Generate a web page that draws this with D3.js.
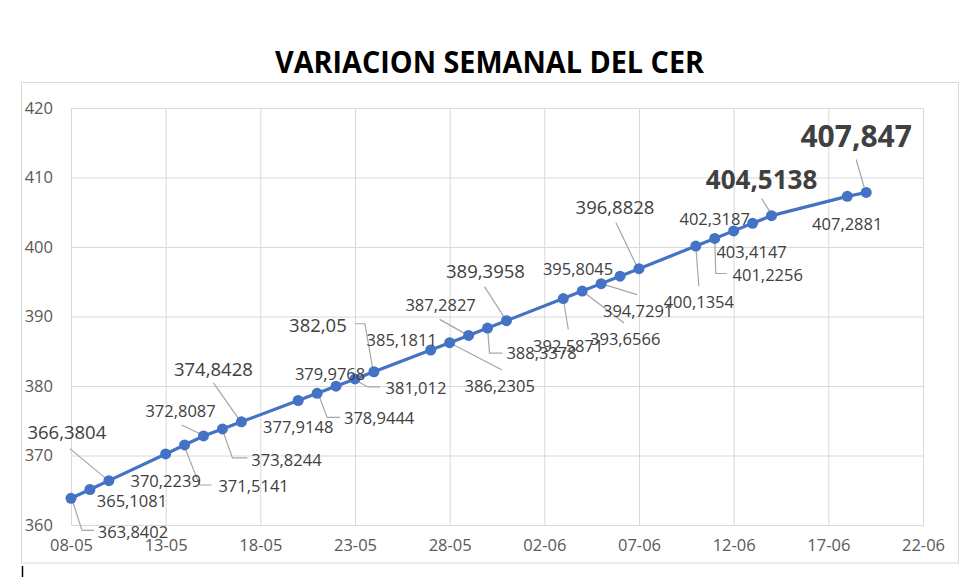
<!DOCTYPE html>
<html>
<head>
<meta charset="utf-8">
<script src="https://cdn.jsdelivr.net/npm/d3@7"></script>
<style>
  html, body { margin: 0; padding: 0; background: #fff; }
  svg { display: block; }
</style>
</head>
<body>
<svg id="chart" width="980" height="577"></svg>
<script>
// ---- data ----
const dates = ["08-05","09-05","10-05","13-05","14-05","15-05","16-05","17-05",
  "20-05","21-05","22-05","23-05","24-05","27-05","28-05","29-05","30-05","31-05",
  "03-06","04-06","05-06","06-06","07-06","10-06","11-06","12-06","13-06","14-06",
  "18-06","19-06"];
const values = [363.8402,365.1081,366.3804,370.2239,371.5141,372.8087,373.8244,374.8428,
  377.9148,378.9444,379.9768,381.012,382.05,385.1811,386.2305,387.2827,388.3378,389.3958,
  392.5871,393.6566,394.7291,395.8045,396.8828,400.1354,401.2256,402.3187,403.4147,404.5138,
  407.2881,407.847];
const labels = ["363,8402","365,1081","366,3804","370,2239","371,5141","372,8087","373,8244","374,8428",
  "377,9148","378,9444","379,9768","381,012","382,05","385,1811","386,2305","387,2827","388,3378","389,3958",
  "392,5871","393,6566","394,7291","395,8045","396,8828","400,1354","401,2256","402,3187","403,4147","404,5138",
  "407,2881","407,847"];
const xTickLabels = ["08-05","13-05","18-05","23-05","28-05","02-06","07-06","12-06","17-06","22-06"];
const yTickValues = [360,370,380,390,400,410,420];
const title = "VARIACION SEMANAL DEL CER";

// ---- label layout (offsets from the point; style kind; leader path) ----
const labelLayout = [
  {dx:62, dy:34, k:"n", leader:[[2,4],[11,32],[23,32]]},
  {dx:42, dy:12, k:"n"},
  {dx:-42, dy:-48, k:"l", leader:[[-39,-32],[-4,-3]]},
  {dx:0, dy:27, k:"n"},
  {dx:69, dy:41, k:"n", leader:[[0,2],[15,40],[27,40]]},
  {dx:-23, dy:-25, k:"n", leader:[[-22,-11],[-1,-1]]},
  {dx:64, dy:31, k:"n", leader:[[0,1],[10,29],[25,29]]},
  {dx:-28, dy:-53, k:"l", leader:[[-28,-39],[-2,-2]]},
  {dx:0, dy:27, k:"n"},
  {dx:62, dy:25, k:"n", leader:[[1,0],[10,24],[23,24]]},
  {dx:-6, dy:-12, k:"n"},
  {dx:61, dy:9, k:"n", leader:[[0,1],[13,8],[25,8]]},
  {dx:-56, dy:-46, k:"l", leader:[[-19,-48],[-9,-48],[-1,-2]]},
  {dx:-29, dy:-10, k:"n"},
  {dx:50, dy:43, k:"n", leader:[[0,0],[52,27]]},
  {dx:-28, dy:-30, k:"n", leader:[[-29,-16],[-4,-2]]},
  {dx:54, dy:25, k:"n", leader:[[0,0],[2,25],[15,25]]},
  {dx:-21, dy:-49, k:"l", leader:[[-22,-34],[-2,-3]]},
  {dx:5, dy:48, k:"n", leader:[[0,0],[5,31]]},
  {dx:43, dy:48, k:"n", leader:[[0,0],[42,32]]},
  {dx:37, dy:27, k:"n", leader:[[0,0],[36,11]]},
  {dx:-42, dy:-7, k:"n"},
  {dx:-24, dy:-61, k:"l", leader:[[-23,-46],[-2,-2]]},
  {dx:3, dy:56, k:"n", leader:[[0,0],[3,40]]},
  {dx:53, dy:37, k:"n", leader:[[0,0],[1,35],[12,35]]},
  {dx:-19, dy:-12, k:"n"},
  {dx:-1, dy:29, k:"n"},
  {dx:-10, dy:-36, k:"b1", leader:[[-10,-17],[-1,-3]]},
  {dx:0, dy:28, k:"n"},
  {dx:-10, dy:-56, k:"b2", leader:[[-10,-33],[-2,-5]]}
];
const labelStyle = {
  n:  {size:16.5, weight:400},
  l:  {size:18.5, weight:400},
  b1: {size:26, weight:700},
  b2: {size:30, weight:700}
};

// ---- drawing ----
const parse = d3.timeParse("%d-%m-%Y");
const toDate = s => parse(s + "-2024");
const data = dates.map((d, i) => ({date: toDate(d), value: values[i], label: labels[i], lay: labelLayout[i]}));

const svg = d3.select("#chart");
const font = "'Open Sans', 'Noto Sans', sans-serif";
const plot = {left: 71, right: 923, top: 108, bottom: 525};

const x = d3.scaleTime()
  .domain([toDate(xTickLabels[0]), toDate(xTickLabels[xTickLabels.length - 1])])
  .range([plot.left, plot.right]);
const y = d3.scaleLinear()
  .domain([yTickValues[0], yTickValues[yTickValues.length - 1]])
  .range([plot.bottom, plot.top]);

// outer chart border
svg.append("rect")
  .attr("x", 21.5).attr("y", 82.5).attr("width", 937).attr("height", 480.5)
  .attr("fill", "none").attr("stroke", "#d9d9d9").attr("stroke-width", 1);

// title
svg.append("text")
  .attr("x", 489.5).attr("y", 73)
  .attr("text-anchor", "middle")
  .attr("font-family", font).attr("font-weight", 700).attr("font-size", 31)
  .attr("fill", "#000")
  .attr("textLength", 429).attr("lengthAdjust", "spacingAndGlyphs")
  .text(title);

// gridlines via axes
const xTickDates = xTickLabels.map(toDate);
const gx = svg.append("g").attr("transform", `translate(0,${plot.bottom})`)
  .call(d3.axisBottom(x).tickValues(xTickDates).tickSize(-(plot.bottom - plot.top))
    .tickFormat(d3.timeFormat("%d-%m")).tickPadding(14));
gx.select(".domain").attr("stroke", "#d9d9d9");
gx.selectAll(".tick line").attr("stroke", "#d9d9d9");
gx.selectAll(".tick text").attr("font-family", font).attr("font-size", 16.5).attr("fill", "#595959");

const gy = svg.append("g").attr("transform", `translate(${plot.left},0)`)
  .call(d3.axisLeft(y).tickValues(yTickValues).tickSize(-(plot.right - plot.left))
    .tickFormat(d3.format("d")).tickPadding(18));
gy.select(".domain").attr("stroke", "#d9d9d9");
gy.selectAll(".tick line").attr("stroke", "#d9d9d9");
gy.selectAll(".tick text").attr("font-family", font).attr("font-size", 16.5).attr("fill", "#595959");

// leader lines
const lineGen = d3.line();
svg.append("g").selectAll("path")
  .data(data.filter(d => d.lay.leader))
  .join("path")
  .attr("d", d => {
    const px = x(d.date), py = y(d.value);
    return lineGen(d.lay.leader.map(p => [px + p[0], py + p[1]]));
  })
  .attr("fill", "none").attr("stroke", "#a6a6a6").attr("stroke-width", 1.2);

// series line
svg.append("path")
  .datum(data)
  .attr("d", d3.line().x(d => x(d.date)).y(d => y(d.value)))
  .attr("fill", "none").attr("stroke", "#4472C4").attr("stroke-width", 3.2)
  .attr("stroke-linejoin", "round");

// markers
svg.append("g").selectAll("circle")
  .data(data).join("circle")
  .attr("cx", d => x(d.date)).attr("cy", d => y(d.value))
  .attr("r", 5.5).attr("fill", "#4472C4");

// data labels
svg.append("g").selectAll("text")
  .data(data).join("text")
  .attr("x", d => x(d.date) + d.lay.dx)
  .attr("y", d => y(d.value) + d.lay.dy)
  .attr("dy", "0.36em")
  .attr("text-anchor", "middle")
  .attr("font-family", font)
  .attr("font-size", d => labelStyle[d.lay.k].size)
  .attr("font-weight", d => labelStyle[d.lay.k].weight)
  .attr("fill", "#404040")
  .text(d => d.label);

// small cursor mark at bottom-left
svg.append("line")
  .attr("x1", 22.5).attr("x2", 22.5).attr("y1", 566).attr("y2", 577)
  .attr("stroke", "#000").attr("stroke-width", 1.5);
</script>
</body>
</html>
